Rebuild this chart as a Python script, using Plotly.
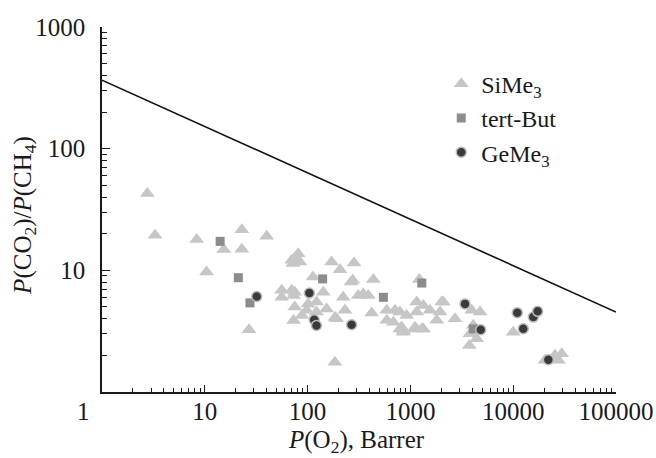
import plotly.graph_objects as go

# SiMe3 (triangles): O2 permeability (Barrer), CO2/CH4 selectivity
si_x = [2.76, 3.28, 8.34, 10.4, 15.3, 22.9, 22.9, 40, 26.9, 70, 81, 84, 72, 76,
        56, 70, 75, 56, 73, 113, 142, 122, 101, 153, 75, 98, 88, 73, 122, 191,
        184, 171, 207, 283, 275, 436, 222, 311, 348, 389, 231, 185, 420, 589,
        708, 790, 920, 589, 682, 822, 853, 1109, 1336, 1151, 1336, 1550, 2015,
        1940, 2714, 1803, 1151, 1222, 3948, 4755, 3800, 4415, 3740, 4090, 10000,
        20400, 25500, 29640, 27500, 265, 790, 853, 1109, 1290, 2090]
si_y = [42.8, 19.4, 17.9, 9.7, 14.8, 21.6, 14.9, 19.1, 3.25, 12.1, 13.7, 11.7, 11.4, 12.8,
        6.85, 6.85, 6.6, 6.0, 6.2, 8.8, 6.6, 5.5, 5.3, 4.8, 5.0, 4.7, 4.25, 3.87, 4.54, 4.0,
        1.76, 11.7, 10.1, 11.5, 8.3, 8.4, 6.0, 6.2, 6.4, 6.2, 4.7, 4.1, 4.45, 4.7,
        4.7, 4.54, 4.26, 3.88, 3.75, 3.41, 3.21, 3.41, 3.3, 4.54, 5.15, 4.7, 5.48,
        4.54, 4.0, 3.88, 5.48, 8.4, 4.7, 4.54, 3.01, 2.74, 2.41, 3.53, 3.1,
        1.82, 2.0, 2.06, 1.82, 8.0, 3.3, 3.1, 3.3, 3.3, 5.48]

# tert-But (squares)
tb_x = [14.1, 21.2, 27.5, 140, 546, 1290, 4090]
tb_y = [17.3, 8.7, 5.4, 8.5, 6.0, 7.86, 3.3]

# GeMe3 (circles)
ge_x = [32, 104, 116, 122, 268, 3398, 4830, 10960, 12530, 15700, 17300, 21970]
ge_y = [6.1, 6.5, 3.92, 3.52, 3.57, 5.3, 3.25, 4.49, 3.31, 4.13, 4.6, 1.84]

# Upper bound line
ub_x = [1, 100000]
ub_y = [366, 4.54]

x_major = [1, 10, 100, 1000, 10000, 100000]
x_labels = ["1" + "\u00a0" * 6, "10", "100", "1000", "10000", "100000"]
y_major = [10, 100, 1000]
y_labels = ["10", "100", "1000"]

minor_x = [m * 10 ** d for d in range(0, 5) for m in range(2, 10)]
minor_y = [m * 10 ** d for d in range(0, 3) for m in range(2, 10)]

FONT = "Liberation Serif"
FS = 25

fig = go.Figure()
fig.add_trace(go.Scatter(x=ub_x, y=ub_y, mode="lines", line=dict(color="#111111", width=1.6),
                         showlegend=False, hoverinfo="skip"))
fig.add_trace(go.Scatter(x=si_x, y=si_y, mode="markers", name="SiMe<sub>3</sub>",
                         marker=dict(symbol="triangle-up", size=13, color="#c6c6c6",
                                     line=dict(width=0))))
fig.add_trace(go.Scatter(x=tb_x, y=tb_y, mode="markers", name="tert-But",
                         marker=dict(symbol="square", size=9, color="#8c8c8c",
                                     line=dict(width=0))))
fig.add_trace(go.Scatter(x=ge_x, y=ge_y, mode="markers", name="GeMe<sub>3</sub>",
                         marker=dict(symbol="circle", size=10, color="#3a3a3a",
                                     line=dict(width=1.5, color="#bdbdbd"))))

fig.update_layout(
    width=656, height=458,
    margin=dict(l=102, r=40, t=27, b=66),
    paper_bgcolor="white", plot_bgcolor="white",
    font=dict(family=FONT, size=FS, color="#1a1a1a"),
    showlegend=True,
    legend=dict(x=0.66, y=0.905, xanchor="left", yanchor="top",
                font=dict(family=FONT, size=24, color="#1a1a1a"),
                bgcolor="rgba(0,0,0,0)", tracegroupgap=0),
    xaxis=dict(type="log", range=[0, 5], showgrid=False, zeroline=False, automargin=False,
               showline=True, linecolor="#1a1a1a", linewidth=1.5,
               ticks="inside", ticklen=7, tickwidth=1.2, tickcolor="#1a1a1a",
               tickmode="array", tickvals=x_major, ticktext=x_labels,
               ticklabelstandoff=-4,
               minor=dict(ticks="inside", ticklen=4, tickwidth=1, tickcolor="#1a1a1a",
                          tickmode="array", tickvals=minor_x, showgrid=False)),
    yaxis=dict(type="log", range=[0, 3], showgrid=False, zeroline=False, automargin=False,
               showline=True, linecolor="#1a1a1a", linewidth=1.5,
               ticks="inside", ticklen=8, tickwidth=1.2, tickcolor="#1a1a1a",
               tickmode="array", tickvals=y_major, ticktext=y_labels,
               ticklabelstandoff=10,
               minor=dict(ticks="inside", ticklen=5, tickwidth=1, tickcolor="#1a1a1a",
                          tickmode="array", tickvals=minor_y, showgrid=False)),
    annotations=[
        dict(text="<i>P</i>(O<sub>2</sub>), Barrer", xref="paper", yref="paper",
             x=0.496, y=-0.135, xanchor="center", yanchor="middle", showarrow=False,
             font=dict(family=FONT, size=FS, color="#1a1a1a")),
        dict(text="<i>P</i>(CO<sub>2</sub>)/<i>P</i>(CH<sub>4</sub>)", xref="paper", yref="paper",
             x=-0.15, y=0.485, xanchor="center", yanchor="middle", showarrow=False,
             textangle=-90, font=dict(family=FONT, size=FS, color="#1a1a1a")),
    ],
)

fig.write_html("out.html")
